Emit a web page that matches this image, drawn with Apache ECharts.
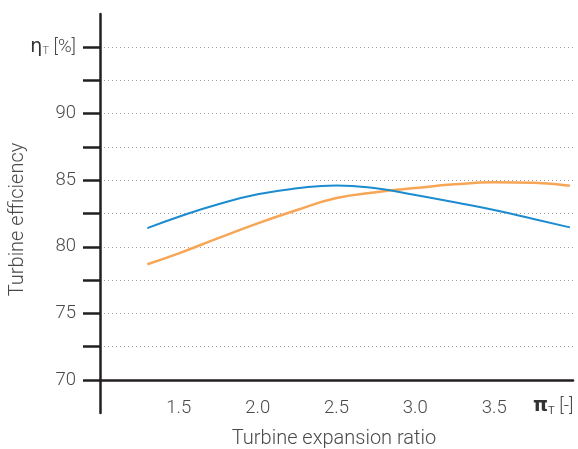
<!DOCTYPE html>
<html>
<head>
<meta charset="utf-8">
<script src="https://cdn.jsdelivr.net/npm/echarts@6/dist/echarts.min.js"></script>
<style>
  html, body { margin: 0; padding: 0; background: #fff; }
  #chart { width: 578px; height: 449px; }
</style>
</head>
<body>
<div id="chart"></div>
<script>
// expansion ratio / efficiency points
const blueX = [1.3, 1.5, 1.75, 2.0, 2.25, 2.5, 2.75, 3.0, 3.25, 3.5, 3.75, 3.98]
const blueY = [81.4, 82.26, 83.2, 83.94, 84.39, 84.61, 84.39, 83.89, 83.34, 82.76, 82.09, 81.46]
const orangeX = [1.3, 1.5, 1.75, 2.0, 2.25, 2.5, 2.75, 3.0, 3.25, 3.5, 3.75, 3.98]
const orangeY = [78.69, 79.51, 80.65, 81.76, 82.76, 83.66, 84.09, 84.41, 84.69, 84.84, 84.81, 84.59]
const xTickLabels = ["1.5", "2.0", "2.5", "3.0", "3.5"]
const yTickLabels = ["70", "75", "80", "85", "90"]

const textColor = "#4a4a4a"
const axisColor = "#231f20"
const font = "Roboto, Liberation Sans, sans-serif"

const chart = echarts.init(document.getElementById("chart"), null, { renderer: "canvas" })

function pairs(xs, ys) {
  return xs.map((x, i) => [x, ys[i]])
}

const option = {
  animation: false,
  textStyle: { fontFamily: font, fontWeight: 300 },
  grid: [
    { left: 100, right: 5, top: 47, bottom: 69, outerBoundsMode: "none", containLabel: false },
    // only used for the longer vertical axis line
    { left: 100, right: 5, top: 14, bottom: 36, outerBoundsMode: "none", containLabel: false }
  ],
  xAxis: [
    {
      type: "value",
      gridIndex: 0,
      min: 1.0,
      max: 4.0,
      interval: 0.5,
      name: "Turbine expansion ratio",
      nameLocation: "middle",
      nameGap: 49,
      nameMoveOverlap: false,
      nameTextStyle: { color: textColor, fontSize: 20, fontWeight: 300, padding: [0, 5, 0, 0] },
      axisLine: { show: true, lineStyle: { color: axisColor, width: 2.5 } },
      axisTick: { show: false },
      splitLine: { show: false },
      axisLabel: {
        color: textColor,
        fontSize: 18.5,
        fontWeight: 300,
        margin: 19,
        formatter: (v) => {
          const s = v.toFixed(1)
          return xTickLabels.includes(s) ? s : ""
        }
      }
    },
    { type: "value", gridIndex: 1, show: false, min: 0, max: 1 }
  ],
  yAxis: [
    {
      type: "value",
      gridIndex: 0,
      min: 70,
      max: 95,
      interval: 2.5,
      name: "Turbine efficiency",
      nameLocation: "middle",
      nameGap: 72,
      nameRotate: 90,
      nameMoveOverlap: false,
      nameTextStyle: { color: textColor, fontSize: 20, fontWeight: 300, padding: [0, 12, 0, 0] },
      axisLine: { show: false },
      axisTick: { show: true, inside: false, length: 17, lineStyle: { color: axisColor, width: 2.5 } },
      splitLine: { show: true, lineStyle: { color: "#a0a0a0", type: [1, 3], width: 1 } },
      axisLabel: {
        color: textColor,
        fontSize: 18.5,
        fontWeight: 300,
        margin: 24,
        formatter: (v) => {
          if (v === 95) return "{eta|η}{sub|T} [%]"
          const s = String(v)
          return yTickLabels.includes(s) ? s : ""
        },
        rich: {
          eta: { fontSize: 19, color: "#333", fontFamily: "DejaVu Sans", fontWeight: "normal" },
          sub: { fontSize: 11, color: textColor, padding: [8, 0, 0, 0] }
        }
      }
    },
    {
      type: "value",
      gridIndex: 1,
      min: 0,
      max: 1,
      axisLine: { show: true, lineStyle: { color: axisColor, width: 2.5 } },
      axisTick: { show: false },
      axisLabel: { show: false },
      splitLine: { show: false }
    }
  ],
  graphic: [
    {
      type: "text",
      left: 533,
      top: 397,
      style: {
        text: "{pi|π}{sub|T} [-]",
        fill: textColor,
        fontSize: 18.5,
        fontWeight: 300,
        fontFamily: font,
        rich: {
          pi: { fontSize: 19, fill: "#333", fontFamily: "DejaVu Sans", fontWeight: "bold" },
          sub: { fontSize: 11, fill: textColor, padding: [8, 0, 0, 0] }
        }
      }
    }
  ],
  series: [
    {
      name: "blue",
      type: "line",
      xAxisIndex: 0,
      yAxisIndex: 0,
      data: pairs(blueX, blueY),
      smooth: true,
      showSymbol: false,
      lineStyle: { color: "#1b8ccf", width: 2 },
      z: 3
    },
    {
      name: "orange",
      type: "line",
      xAxisIndex: 0,
      yAxisIndex: 0,
      data: pairs(orangeX, orangeY),
      smooth: true,
      showSymbol: false,
      lineStyle: { color: "#f7a656", width: 2.5 },
      z: 2
    }
  ]
}

chart.setOption(option)
window.addEventListener("resize", () => chart.resize())
</script>
</body>
</html>
